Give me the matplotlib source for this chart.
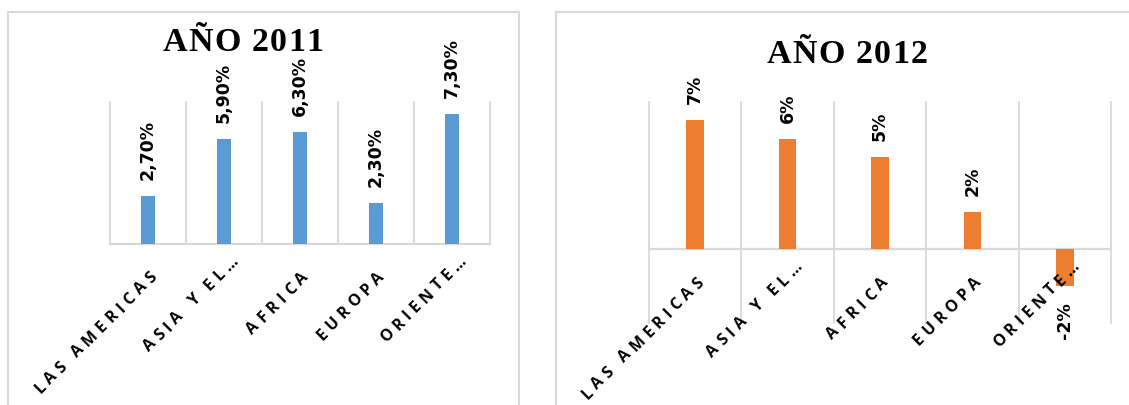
import matplotlib
matplotlib.use('Agg')
import matplotlib.pyplot as plt
from matplotlib.font_manager import FontProperties, findfont, get_font
from matplotlib.lines import Line2D
import numpy as np

# ---- data ----
categories = ["LAS AMERICAS", "ASIA Y EL…", "AFRICA", "EUROPA", "ORIENTE…"]
values_2011 = [2.7, 5.9, 6.3, 2.3, 7.3]
values_2012 = [7, 6, 5, 2, -2]
labels_2011 = ["2,70%", "5,90%", "6,30%", "2,30%", "7,30%"]
labels_2012 = ["7%", "6%", "5%", "2%", "-2%"]
title_2011 = "AÑO 2011"
title_2012 = "AÑO 2012"

W, H, DPI = 1129, 405, 100
fig = plt.figure(figsize=(W / DPI, H / DPI), dpi=DPI)
GRID = '#d9d9d9'
BLUE = '#5b9bd5'
ORANGE = '#ed7d31'

fp_title = FontProperties(family='Liberation Serif', weight='bold', size=24.5)
fp_tick = FontProperties(family='Open Sans', weight='bold', size=11.5)
fp_val = FontProperties(family='DejaVu Sans', weight='bold', size=12.5)


def px_axes(l, t, r, b):
    return fig.add_axes([l / W, 1 - b / H, (r - l) / W, (b - t) / H])


def advances(s, fp):
    font = get_font(findfont(fp))
    font.set_size(fp.get_size_in_points(), DPI)
    return [font.load_char(ord(c)).linearHoriAdvance / 65536 for c in s]


def spaced(ax, xy, xycoords, s, fp, angle, spacing, off, align):
    adv = advances(s, fp)
    total = sum(adv) + spacing * (len(s) - 1)
    ux, uy = np.cos(np.radians(angle)), np.sin(np.radians(angle))
    pos = {'right': -total, 'center': -total / 2}.get(align, 0.0)
    for c, a in zip(s, adv):
        ax.annotate(c, xy=xy, xycoords=xycoords,
                    xytext=(off[0] + pos * ux, off[1] + pos * uy),
                    textcoords='offset pixels', fontproperties=fp,
                    rotation=angle, rotation_mode='anchor', ha='left',
                    va='baseline', color='black', annotation_clip=False)
        pos += a + spacing


def draw_chart(ax, values, labels, color, width, ylim):
    x = np.arange(len(categories))
    ax.bar(x, values, width=width, color=color, zorder=3)
    ax.set_xlim(-0.5, len(categories) - 0.5)
    ax.set_ylim(*ylim)
    for b in np.arange(-0.5, len(categories), 1.0):
        ax.axvline(b, color=GRID, lw=1.3, clip_on=False, zorder=1)
    ax.axhline(0, color=GRID, lw=1.6, clip_on=False, zorder=2)
    for s in ax.spines.values():
        s.set_visible(False)
    ax.set_xticks([])
    ax.set_yticks([])
    ax.patch.set_alpha(0)
    for xi, v, lab in zip(x, values, labels):
        ax.annotate(lab, xy=(xi, v), xytext=(0, 16 if v >= 0 else -16),
                    textcoords='offset pixels', rotation=90, ha='center',
                    va='bottom' if v >= 0 else 'top', fontproperties=fp_val,
                    annotation_clip=False)
    for xi, cat in zip(x, categories):
        off = (15, -18) if cat.endswith('…') else (9, -34)
        spaced(ax, (xi, 0), 'data', cat, fp_tick, 45, 4.6, off, 'right')


# frames
def fline(x0, y0, x1, y1):
    fig.add_artist(Line2D([x0 / W, x1 / W], [1 - y0 / H, 1 - y1 / H],
                          transform=fig.transFigure, color=GRID, lw=1.5))

fline(8, 12, 519, 12)
fline(8, 12, 8, 420)
fline(519, 12, 519, 420)
fline(556, 12, 1140, 12)
fline(556, 12, 556, 420)

ax1 = px_axes(110, 102, 490, 244)
draw_chart(ax1, values_2011, labels_2011, BLUE, 0.18, (0, 8))
ax2 = px_axes(649, 102, 1111, 323)
draw_chart(ax2, values_2012, labels_2012, ORANGE, 0.19, (-4, 8))

spaced(ax1, (243, H - 51), 'figure pixels', title_2011, fp_title, 0, 1.2, (0, 0), 'center')
spaced(ax2, (847, H - 63), 'figure pixels', title_2012, fp_title, 0, 1.2, (0, 0), 'center')

fig.savefig('out.png', dpi=DPI)
